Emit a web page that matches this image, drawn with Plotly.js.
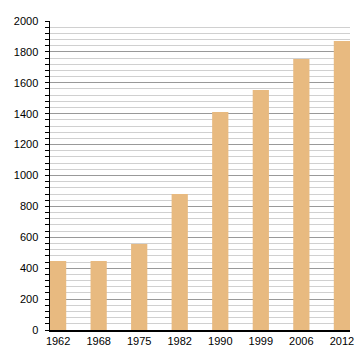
<!DOCTYPE html>
<html><head><meta charset="utf-8">
<script src="https://cdn.plot.ly/plotly-3.0.1.min.js"></script>
<style>html,body{margin:0;padding:0;background:#fff}#c{width:360px;height:360px}</style>
</head><body><div id="c"></div>
<script>
const years = ["1962","1968","1975","1982","1990","1999","2006","2012"];
const population = [447, 447, 557, 880, 1411, 1553, 1754, 1870];
const yTicks = [0,200,400,600,800,1000,1200,1400,1600,1800,2000];

Plotly.newPlot('c', [{
  type: 'bar', x: years, y: population, width: 0.4,
  marker: {color: '#E8BA80', line: {width: 0}}, hoverinfo: 'none'
}], {
  width: 360, height: 360,
  margin: {l: 50, r: 10, t: 21, b: 30},
  paper_bgcolor: '#fff', plot_bgcolor: '#fff',
  font: {family: 'Liberation Sans, Arial, sans-serif', size: 11, color: '#000'},
  showlegend: false,
  xaxis: {type: 'category', range: [-0.2, 7.2], showline: true, linecolor: '#000', linewidth: 1.5,
    ticks: '', showgrid: false, zeroline: false, tickfont: {size: 11}, fixedrange: true},
  yaxis: {range: [0, 2000], tickvals: yTicks, ticktext: yTicks.map(String), showline: true, linecolor: '#000', linewidth: 1.5,
    ticks: 'outside', ticklen: 4, tickcolor: '#000', gridcolor: '#999', gridwidth: 1, zeroline: false,
    tickfont: {size: 11}, ticklabelstandoff: 4,
    minor: {dtick: 40, tick0: 0, ticks: 'outside', ticklen: 4, tickcolor: '#000', showgrid: true, gridcolor: '#d0d0d0', gridwidth: 1},
    fixedrange: true}
}, {staticPlot: true});
</script></body></html>
